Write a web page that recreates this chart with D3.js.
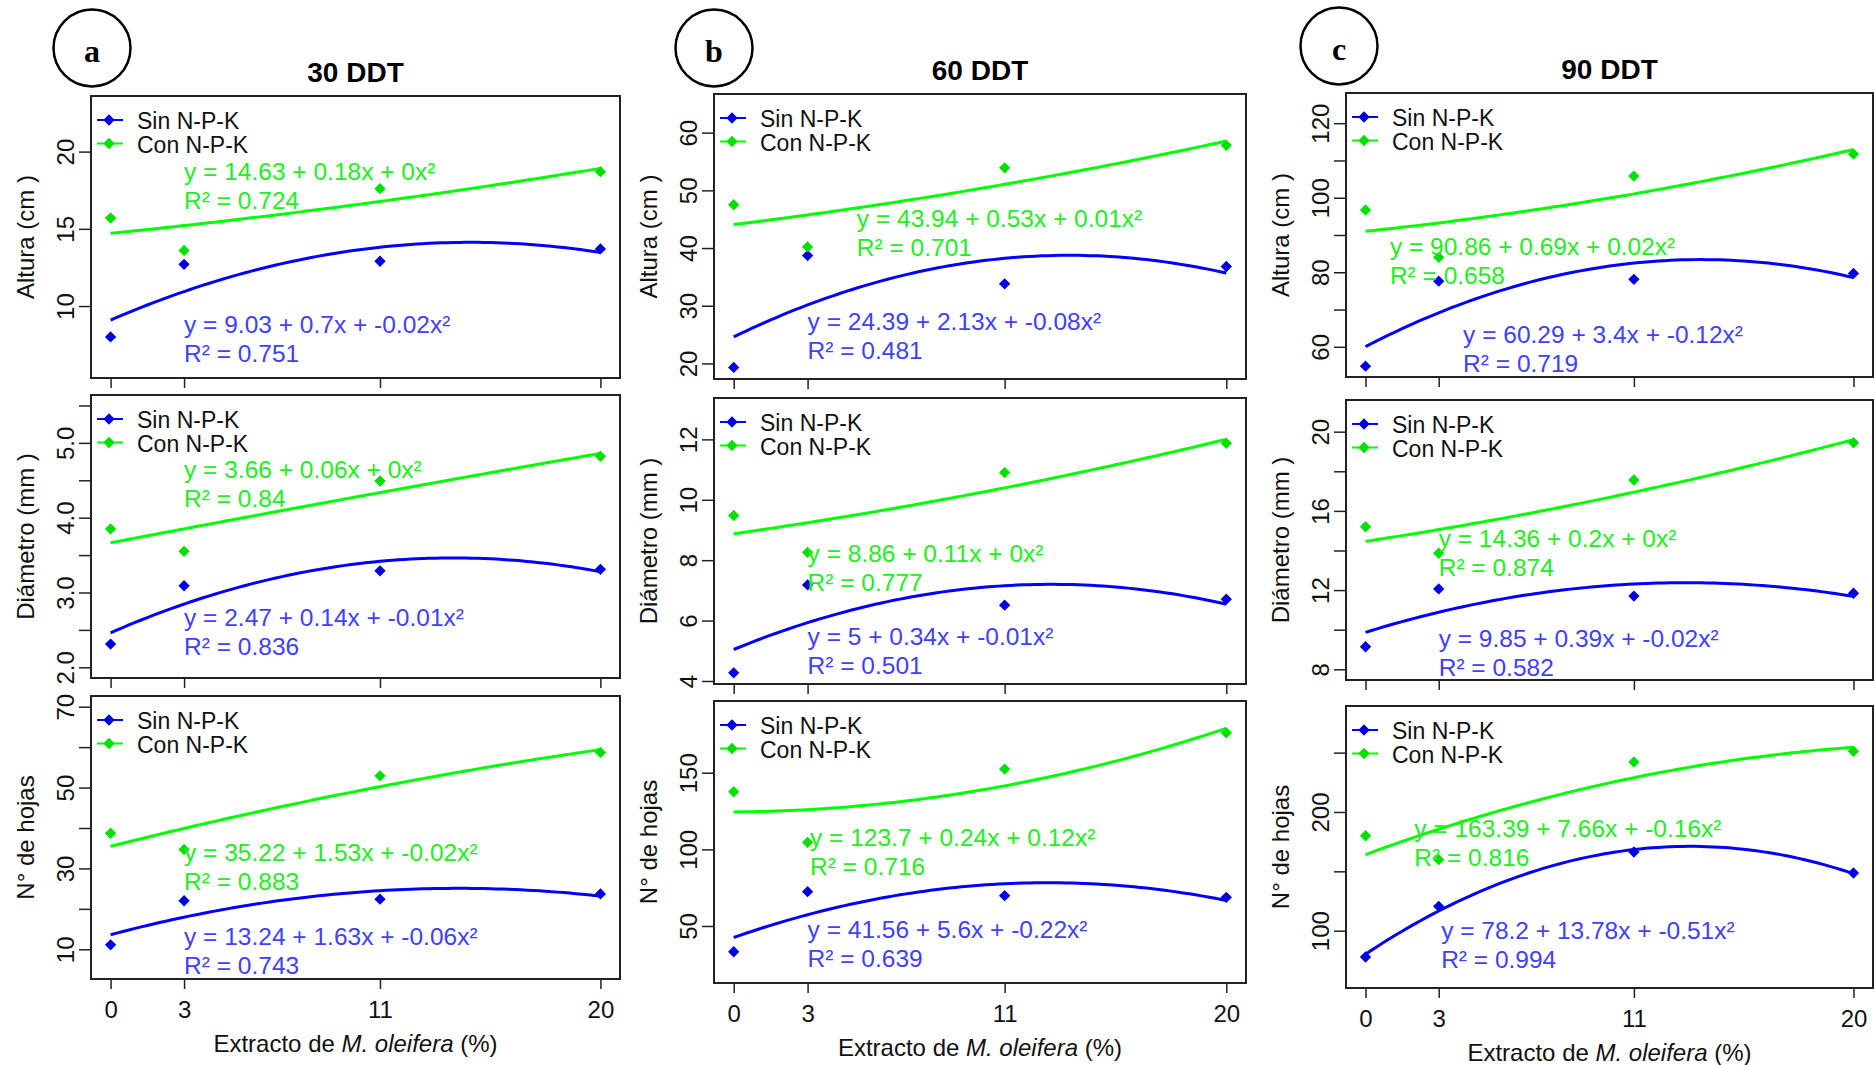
<!DOCTYPE html>
<html>
<head>
<meta charset="utf-8">
<script src="https://cdn.jsdelivr.net/npm/d3@7"></script>
<style>
  body { margin: 0; background: #fff; }
  svg { display: block; }
  text { font-family: "Liberation Sans", Arial, sans-serif; }
</style>
</head>
<body>
<svg id="chart" width="1874" height="1065"></svg>
<script>
// ---- data ----
const doses = [0, 3, 11, 20];
const periods = ["30 DDT", "60 DDT", "90 DDT"];
const letters = ["a", "b", "c"];
const variables = ["Altura (cm )", "Diámetro (mm )", "N° de hojas"];
const legendLabels = ["Sin N-P-K", "Con N-P-K"];

// one array per period (30, 60, 90 DDT), values at doses 0, 3, 11, 20
const alturaSin   = [[8.0, 12.7, 12.9, 13.7], [19.3, 38.7, 33.8, 36.8], [54.8, 77.6, 78.1, 79.7]];
const alturaCon   = [[15.7, 13.6, 17.6, 18.7], [47.5, 40.2, 53.9, 57.8], [96.7, 84.0, 105.8, 111.7]];
const diametroSin = [[2.31, 3.09, 3.29, 3.31], [4.27, 7.18, 6.51, 6.71], [9.14, 12.06, 11.7, 11.84]];
const diametroCon = [[3.85, 3.55, 4.49, 4.82], [9.48, 8.26, 10.9, 11.87], [15.2, 13.86, 17.56, 19.44]];
const hojasSin    = [[11.1, 22.0, 22.4, 23.7], [33.2, 72.4, 69.8, 68.7], [77.8, 120.5, 166.3, 148.6]];
const hojasCon    = [[38.7, 34.7, 52.9, 58.7], [137.6, 104.6, 152.4, 176.1], [180.0, 159.8, 242.1, 251.1]];

// equation labels [row][period]
const eqSin = [
  [["y = 9.03 + 0.7x + -0.02x²", "R² = 0.751"], ["y = 24.39 + 2.13x + -0.08x²", "R² = 0.481"], ["y = 60.29 + 3.4x + -0.12x²", "R² = 0.719"]],
  [["y = 2.47 + 0.14x + -0.01x²", "R² = 0.836"], ["y = 5 + 0.34x + -0.01x²", "R² = 0.501"], ["y = 9.85 + 0.39x + -0.02x²", "R² = 0.582"]],
  [["y = 13.24 + 1.63x + -0.06x²", "R² = 0.743"], ["y = 41.56 + 5.6x + -0.22x²", "R² = 0.639"], ["y = 78.2 + 13.78x + -0.51x²", "R² = 0.994"]]
];
const eqCon = [
  [["y = 14.63 + 0.18x + 0x²", "R² = 0.724"], ["y = 43.94 + 0.53x + 0.01x²", "R² = 0.701"], ["y = 90.86 + 0.69x + 0.02x²", "R² = 0.658"]],
  [["y = 3.66 + 0.06x + 0x²", "R² = 0.84"], ["y = 8.86 + 0.11x + 0x²", "R² = 0.777"], ["y = 14.36 + 0.2x + 0x²", "R² = 0.874"]],
  [["y = 35.22 + 1.53x + -0.02x²", "R² = 0.883"], ["y = 123.7 + 0.24x + 0.12x²", "R² = 0.716"], ["y = 163.39 + 7.66x + -0.16x²", "R² = 0.816"]]
];

// y ticks per [row][period], and the ones that carry a label
const yTicks = [
  [[10, 15, 20], [20, 30, 40, 50, 60], [60, 70, 80, 90, 100, 110, 120]],
  [[2, 2.5, 3, 3.5, 4, 4.5, 5, 5.5], [4, 6, 8, 10, 12], [8, 10, 12, 14, 16, 18, 20]],
  [[10, 20, 30, 40, 50, 60, 70], [50, 100, 150], [100, 150, 200, 250]]
];
const yTickLabels = [
  [[10, 15, 20], [20, 30, 40, 50, 60], [60, 80, 100, 120]],
  [[2, 3, 4, 5], [4, 6, 8, 10, 12], [8, 12, 16, 20]],
  [[10, 30, 50, 70], [50, 100, 150], [100, 200]]
];

// ---- layout / scales ----
const yDomains = [
  [[5.34, 23.6], [17.3, 66.7], [51.9, 128.1]],
  [[1.857, 5.64], [3.9, 13.37], [7.46, 21.6]],
  [[2.65, 72.65], [12.8, 196.8], [51.7, 289.3]]
];
// equation anchors in data units [x, y of first line]
const eqPosSin = [
  [[3, 8.78], [3, 27.2], [4, 63.3]],
  [[3, 2.66], [3, 5.46], [3, 9.57]],
  [[3, 13.1], [3, 47.8], [3.1, 100.3]]
];
const eqPosCon = [
  [[3, 18.7], [5, 45.15], [1, 87.0]],
  [[3, 4.64], [3, 8.23], [3, 14.6]],
  [[3, 34.0], [3.1, 107.6], [2, 185.9]]
];

const colX = [[91, 620], [714, 1246], [1346, 1873]];
const rowY = [
  [[96, 378], [395, 678], [696, 979]],
  [[94, 379], [398, 684], [701, 983]],
  [[93, 377], [400, 680], [706, 988]]
];
const circles = [[92, 48], [714, 48], [1339, 46]];

const BLUE = "#0000ff", BLUE_PT = "#0000e0", BLUE_TXT = "#4040ff";
const GREEN = "#00ff00", GREEN_PT = "#00e000", GREEN_TXT = "#22ee22";

const svg = d3.select("#chart");

// least squares quadratic fit y = a + b x + c x^2
function quadFit(xs, ys) {
  const S = [[0, 0, 0], [0, 0, 0], [0, 0, 0]], T = [0, 0, 0];
  xs.forEach((xv, i) => {
    for (let r = 0; r < 3; r++) {
      for (let c = 0; c < 3; c++) S[r][c] += Math.pow(xv, r + c);
      T[r] += ys[i] * Math.pow(xv, r);
    }
  });
  const det = m => m[0][0] * (m[1][1] * m[2][2] - m[1][2] * m[2][1])
    - m[0][1] * (m[1][0] * m[2][2] - m[1][2] * m[2][0])
    + m[0][2] * (m[1][0] * m[2][1] - m[1][1] * m[2][0]);
  const D = det(S);
  return [0, 1, 2].map(k => det(S.map((row, r) => row.map((v, c) => c === k ? T[r] : v))) / D);
}

const diamond = d3.symbol().type(d3.symbolSquare).size(64);

const sinData = [alturaSin, diametroSin, hojasSin];
const conData = [alturaCon, diametroCon, hojasCon];

periods.forEach((period, ci) => {
  const [x0, x1] = colX[ci];
  const g0 = svg.append("g");

  // circled letter
  g0.append("circle").attr("cx", circles[ci][0]).attr("cy", circles[ci][1]).attr("r", 38.5)
    .attr("fill", "none").attr("stroke", "#000").attr("stroke-width", 2.5);
  g0.append("text").attr("x", circles[ci][0]).attr("y", circles[ci][1] + 13.5)
    .attr("text-anchor", "middle").style("font-family", "'Liberation Serif', 'Times New Roman', serif")
    .style("font-weight", "bold").style("font-size", "32px").text(letters[ci]);

  // period title
  g0.append("text").attr("x", (x0 + x1) / 2).attr("y", rowY[ci][0][0] - 14)
    .attr("text-anchor", "middle").style("font-weight", "bold").style("font-size", "28px")
    .text(period);

  variables.forEach((variable, ri) => {
    const [y0, y1] = rowY[ci][ri];
    const x = d3.scaleLinear().domain([-0.8, 20.8]).range([x0, x1]);
    const y = d3.scaleLinear().domain(yDomains[ri][ci]).range([y1, y0]);
    const g = svg.append("g");

    // x axis ticks
    const xAxis = d3.axisBottom(x).tickValues(doses).tickSize(10).tickPadding(12)
      .tickFormat(ri === 2 ? d3.format("d") : () => "");
    const gx = g.append("g").attr("transform", `translate(0,${y1})`).call(xAxis);
    gx.select(".domain").remove();
    gx.selectAll("line").attr("stroke", "#222").attr("stroke-width", 1.5);
    gx.selectAll("text").style("font-size", "24px").attr("fill", "#111")
      .style("font-family", "'Liberation Sans', Arial, sans-serif");

    // y axis ticks
    const labelled = yTickLabels[ri][ci];
    const fmt = ri === 1 && ci === 0 ? d3.format(".1f") : d3.format("d");
    const yAxis = d3.axisLeft(y).tickValues(yTicks[ri][ci]).tickSize(12)
      .tickFormat(d => labelled.includes(d) ? fmt(d) : "");
    const gy = g.append("g").attr("transform", `translate(${x0},0)`).call(yAxis);
    gy.select(".domain").remove();
    gy.selectAll("line").attr("stroke", "#222").attr("stroke-width", 1.5);
    gy.selectAll("text").attr("x", 0).attr("dy", null).attr("text-anchor", "middle")
      .attr("transform", "translate(-17,0) rotate(-90)")
      .style("font-size", "24px").attr("fill", "#111")
      .style("font-family", "'Liberation Sans', Arial, sans-serif");

    // y title
    g.append("text")
      .attr("transform", `translate(${x0 - 57},${(y0 + y1) / 2}) rotate(-90)`)
      .attr("text-anchor", "middle").style("font-size", "24px").attr("fill", "#111")
      .text(variable);

    // fitted curves and points
    const series = [
      { vals: sinData[ri][ci], line: BLUE, pt: BLUE_PT, txt: BLUE_TXT, eq: eqSin[ri][ci], pos: eqPosSin[ri][ci] },
      { vals: conData[ri][ci], line: GREEN, pt: GREEN_PT, txt: GREEN_TXT, eq: eqCon[ri][ci], pos: eqPosCon[ri][ci] }
    ];
    series.forEach(s => {
      const [a, b, c] = quadFit(doses, s.vals);
      const xs = d3.range(0, 20.001, 0.25);
      g.append("path")
        .attr("d", d3.line().x(d => x(d)).y(d => y(a + b * d + c * d * d))(xs))
        .attr("fill", "none").attr("stroke", s.line).attr("stroke-width", 3);
      g.selectAll(null).data(s.vals).enter().append("path")
        .attr("d", diamond)
        .attr("transform", (d, i) => `translate(${x(doses[i])},${y(d)}) rotate(45)`)
        .attr("fill", s.pt);
    });
    series.forEach(s => {
      const tx = x(s.pos[0]), ty = y(s.pos[1]);
      g.append("text").attr("x", tx).attr("y", ty + 8.5).attr("fill", s.txt)
        .style("font-size", "24.5px").text(s.eq[0]);
      g.append("text").attr("x", tx).attr("y", ty + 37.5).attr("fill", s.txt)
        .style("font-size", "24.5px").text(s.eq[1]);
    });

    // legend
    [BLUE, GREEN].forEach((col, li) => {
      const ly = y0 + 24 + li * 23.5;
      g.append("line").attr("x1", x0 + 6).attr("x2", x0 + 32).attr("y1", ly).attr("y2", ly)
        .attr("stroke", col).attr("stroke-width", 2);
      g.append("path").attr("d", diamond)
        .attr("transform", `translate(${x0 + 18},${ly}) rotate(45)`).attr("fill", li ? GREEN_PT : BLUE_PT);
      g.append("text").attr("x", x0 + 46).attr("y", ly + 9).attr("fill", "#111")
        .style("font-size", "23px").text(legendLabels[li]);
    });

    // box
    g.append("rect").attr("x", x0).attr("y", y0).attr("width", x1 - x0).attr("height", y1 - y0)
      .attr("fill", "none").attr("stroke", "#222").attr("stroke-width", 2);

    // x title on bottom row
    if (ri === 2) {
      const t = g.append("text").attr("x", (x0 + x1) / 2).attr("y", y1 + 73)
        .attr("text-anchor", "middle").style("font-size", "24px").attr("fill", "#111");
      t.append("tspan").text("Extracto de ");
      t.append("tspan").style("font-style", "italic").text("M. oleifera");
      t.append("tspan").text(" (%)");
    }
  });
});
</script>
</body>
</html>
